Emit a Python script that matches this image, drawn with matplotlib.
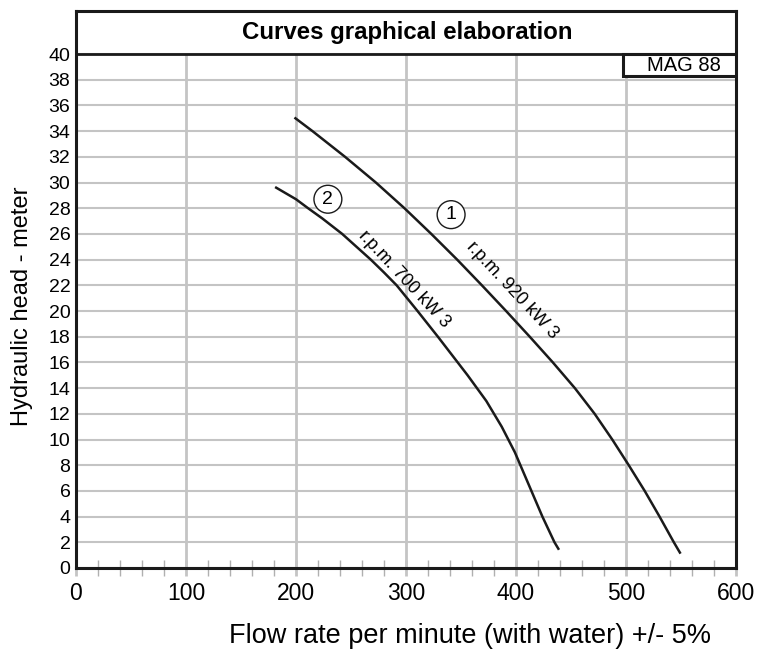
import matplotlib.pyplot as plt
from matplotlib.patches import Rectangle

plt.rcParams['font.family'] = ['Liberation Sans', 'DejaVu Sans']

# curve data (flow, head)
flow_920 = [199.5, 215, 244.6, 272.6, 298.6, 323, 346.5, 369, 391, 412.5, 433.5,
            453.5, 471.5, 487.5, 502.5, 517, 530.5, 543.5, 549]
head_920 = [35.0, 34, 32, 30, 28, 26, 24, 22, 20, 18, 16, 14, 12, 10, 8, 6, 4, 2, 1.2]
flow_700 = [182, 200, 211, 224, 242, 255, 268, 280, 291.5, 310.5, 329, 347, 356,
            364.5, 373, 380, 387, 393, 399, 404, 409, 414, 424, 435, 438.5]
head_700 = [29.6, 28.7, 28, 27.2, 26, 25, 24, 23, 22, 20, 18, 16, 15,
            14, 13, 12, 11, 10, 9, 8, 7, 6, 4, 2, 1.5]

x_ticks = [0, 100, 200, 300, 400, 500, 600]
x_minor = [v for v in range(20, 600, 20) if v % 100 != 0]
y_ticks = list(range(0, 41, 2))

title = 'Curves graphical elaboration'
model = 'MAG 88'
label_920 = 'r.p.m. 920 kW 3'
label_700 = 'r.p.m. 700 kW 3'

grid_col = '#c4c4c4'
ink = '#1a1a1a'

fig = plt.figure(figsize=(7.73, 6.5), dpi=100)
ax = fig.add_axes([76 / 773, 1 - 568 / 650, 660 / 773, 557 / 650])
ax.set_xlim(0, 600)
ax.set_ylim(0, 43.35)

# grid
ax.set_yticks(y_ticks)
ax.grid(axis='y', color=grid_col, lw=1.5, zorder=0)
ax.vlines(x_ticks[1:-1], 0, 40, color=grid_col, lw=2, zorder=0)
ax.axhline(40, color=ink, lw=2, zorder=3)

ax.set_xticks(x_ticks)
ax.set_xticks(x_minor, minor=True)
ax.tick_params(axis='x', which='major', direction='inout', length=12, width=2,
               color=grid_col, labelsize=16.5, pad=4)
ax.tick_params(axis='x', which='minor', direction='inout', length=12, width=1,
               color='#b0b0b0')
ax.tick_params(axis='y', length=0, labelsize=14, pad=4)
for t in ax.get_yticklabels():
    t.set_verticalalignment('center_baseline')

for s in ax.spines.values():
    s.set_linewidth(2.2)
    s.set_color(ink)

ax.plot(flow_920, head_920, color=ink, lw=1.8, zorder=4, solid_joinstyle='round')
ax.plot(flow_700, head_700, color=ink, lw=1.8, zorder=4, solid_joinstyle='round')

ax.text(396.6, 21.6, label_920, rotation=-47, rotation_mode='anchor',
        ha='center', va='center', fontsize=13, zorder=5)
ax.text(298, 22.5, label_700, rotation=-47, rotation_mode='anchor',
        ha='center', va='center', fontsize=13, zorder=5)

circ = dict(boxstyle='circle,pad=0.28', fc='white', ec=ink, lw=1)
ax.text(341, 27.5, '1', ha='center', va='center', fontsize=14, bbox=circ, zorder=5)
ax.text(229, 28.7, '2', ha='center', va='center', fontsize=14, bbox=circ, zorder=5)

# title + model box
ax.text(301, 41.7, title, ha='center', va='center', fontsize=17.3, fontweight='bold')
ax.add_patch(Rectangle((497, 38.3), 103, 1.7, fc='white', ec=ink, lw=2.2, zorder=3))
ax.text(553, 39.1, model, ha='center', va='center', fontsize=14.5, zorder=4)

fig.text(22 / 773, 1 - 306 / 650, 'Hydraulic head - meter', rotation=90,
         ha='center', va='center', fontsize=17)
fig.text(470 / 773, 1 - 636 / 650, 'Flow rate per minute (with water) +/- 5%',
         ha='center', va='center', fontsize=19.5)

fig.savefig('out.png', dpi=100)
